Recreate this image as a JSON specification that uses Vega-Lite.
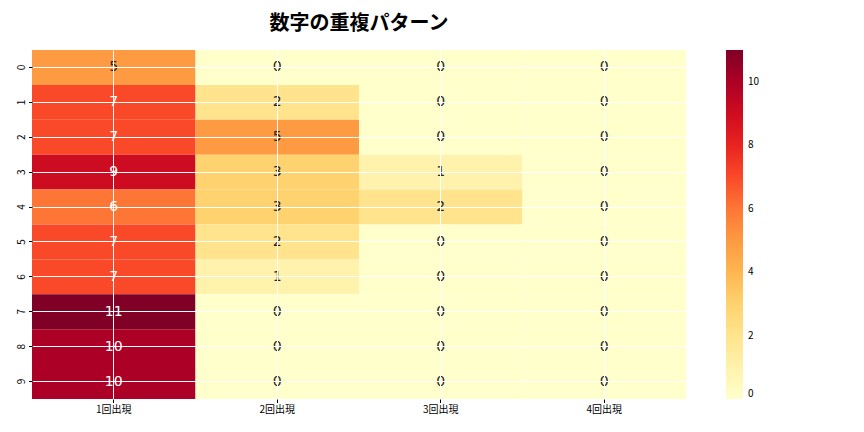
{
  "$schema": "https://vega.github.io/schema/vega-lite/v6.json",
  "autosize": "none",
  "padding": {"left": 32, "top": 50, "right": 178, "bottom": 33},
  "width": 654,
  "height": 349,
  "background": "white",
  "title": {
    "text": "数字の重複パターン",
    "font": "Noto Sans CJK JP",
    "fontSize": 20,
    "fontWeight": "bold",
    "color": "#000000",
    "anchor": "middle",
    "offset": 16
  },
  "config": {
    "font": "Noto Sans CJK JP",
    "view": {"stroke": null}
  },
  "data": {
    "values": [
      {"row": "0", "col": "1回出現", "count": 5},
      {"row": "0", "col": "2回出現", "count": 0},
      {"row": "0", "col": "3回出現", "count": 0},
      {"row": "0", "col": "4回出現", "count": 0},
      {"row": "1", "col": "1回出現", "count": 7},
      {"row": "1", "col": "2回出現", "count": 2},
      {"row": "1", "col": "3回出現", "count": 0},
      {"row": "1", "col": "4回出現", "count": 0},
      {"row": "2", "col": "1回出現", "count": 7},
      {"row": "2", "col": "2回出現", "count": 5},
      {"row": "2", "col": "3回出現", "count": 0},
      {"row": "2", "col": "4回出現", "count": 0},
      {"row": "3", "col": "1回出現", "count": 9},
      {"row": "3", "col": "2回出現", "count": 3},
      {"row": "3", "col": "3回出現", "count": 1},
      {"row": "3", "col": "4回出現", "count": 0},
      {"row": "4", "col": "1回出現", "count": 6},
      {"row": "4", "col": "2回出現", "count": 3},
      {"row": "4", "col": "3回出現", "count": 2},
      {"row": "4", "col": "4回出現", "count": 0},
      {"row": "5", "col": "1回出現", "count": 7},
      {"row": "5", "col": "2回出現", "count": 2},
      {"row": "5", "col": "3回出現", "count": 0},
      {"row": "5", "col": "4回出現", "count": 0},
      {"row": "6", "col": "1回出現", "count": 7},
      {"row": "6", "col": "2回出現", "count": 1},
      {"row": "6", "col": "3回出現", "count": 0},
      {"row": "6", "col": "4回出現", "count": 0},
      {"row": "7", "col": "1回出現", "count": 11},
      {"row": "7", "col": "2回出現", "count": 0},
      {"row": "7", "col": "3回出現", "count": 0},
      {"row": "7", "col": "4回出現", "count": 0},
      {"row": "8", "col": "1回出現", "count": 10},
      {"row": "8", "col": "2回出現", "count": 0},
      {"row": "8", "col": "3回出現", "count": 0},
      {"row": "8", "col": "4回出現", "count": 0},
      {"row": "9", "col": "1回出現", "count": 10},
      {"row": "9", "col": "2回出現", "count": 0},
      {"row": "9", "col": "3回出現", "count": 0},
      {"row": "9", "col": "4回出現", "count": 0}
    ]
  },
  "encoding": {
    "x": {
      "field": "col",
      "type": "nominal",
      "title": null,
      "scale": {"paddingInner": 0, "paddingOuter": 0},
      "axis": {
        "labelAngle": 0,
        "labelFontSize": 10,
        "labelColor": "#000000",
        "tickColor": "#000000",
        "tickSize": 3.5,
        "domain": false,
        "grid": true,
        "gridColor": "#ffffff",
        "gridWidth": 1,
        "gridOpacity": 1,
        "bandPosition": 0.5,
        "zindex": 1
      }
    },
    "y": {
      "field": "row",
      "type": "ordinal",
      "title": null,
      "scale": {"paddingInner": 0, "paddingOuter": 0},
      "axis": {
        "labelAngle": 270,
        "labelAlign": "center",
        "labelBaseline": "bottom",
        "labelFontSize": 10,
        "labelColor": "#000000",
        "tickColor": "#000000",
        "tickSize": 3.5,
        "domain": false,
        "grid": true,
        "gridColor": "#ffffff",
        "gridWidth": 1,
        "gridOpacity": 1,
        "bandPosition": 0.5,
        "zindex": 1
      }
    }
  },
  "layer": [
    {
      "mark": {"type": "rect"},
      "encoding": {
        "color": {
          "field": "count",
          "type": "quantitative",
          "scale": {
            "domain": [0, 1.375, 2.75, 4.125, 5.5, 6.875, 8.25, 9.625, 11],
            "range": ["#ffffcc", "#ffeda0", "#fed976", "#feb24c", "#fd8d3c", "#fc4e2a", "#e31a1c", "#bd0026", "#800026"],
            "interpolate": "rgb"
          },
          "legend": {
            "title": null,
            "orient": "right",
            "offset": 40,
            "direction": "vertical",
            "gradientLength": 349,
            "gradientThickness": 17,
            "gradientStrokeWidth": 0,
            "values": [0, 2, 4, 6, 8, 10],
            "labelFontSize": 10,
            "labelColor": "#000000",
            "labelOffset": 5
          }
        }
      }
    },
    {
      "mark": {"type": "text", "fontSize": 14, "font": "DejaVu Sans"},
      "encoding": {
        "text": {"field": "count", "type": "quantitative"},
        "color": {
          "condition": {"test": "datum.count > 5.5", "value": "#ffffff"},
          "value": "#262626"
        }
      }
    }
  ]
}
